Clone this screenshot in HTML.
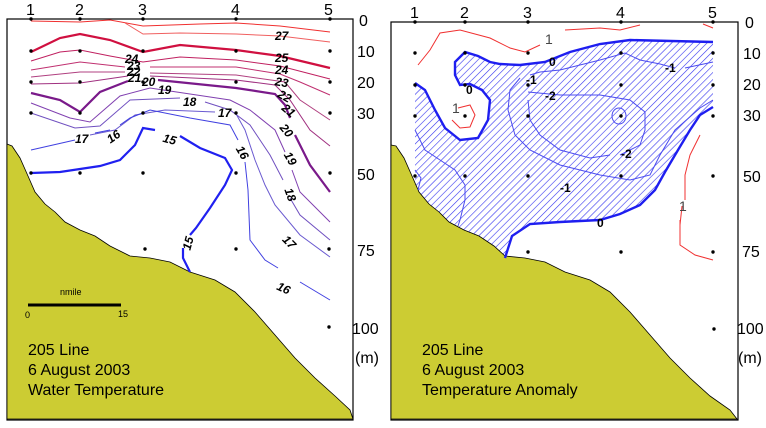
<!DOCTYPE html>
<html><head><meta charset="utf-8"><style>
html,body{margin:0;padding:0;background:#fff;}
svg{display:block;font-family:"Liberation Sans",Arial,sans-serif;}
</style></head><body>
<svg width="766" height="428" viewBox="0 0 766 428">
<defs>
<pattern id="h" patternUnits="userSpaceOnUse" width="5" height="5" patternTransform="rotate(45)">
<line x1="0" y1="0" x2="0" y2="5" stroke="#3434f0" stroke-width="1.2"/>
</pattern>
</defs>
<!-- LEFT PANEL -->
<rect x="7" y="19" width="346" height="401" fill="#fff" stroke="#000" stroke-width="1.2"/>
<path d="M7,144 L12,146 L20,158 L28,176 L35,192 L45,204 L55,212 L65,222 L80,230 L95,236 L110,246 L130,256 L150,258 L170,262 L190,272 L215,280 L235,292 L255,312 L275,335 L295,358 L315,378 L335,396 L350,410 L353,419 L7,419 Z" fill="#cccc33" stroke="#000" stroke-width="0.8"/>
<g fill="none">
<path d="M31,21 L80,22 L110,20 L143,26 L200,24 L236,23 L280,26 L330,32" stroke="#f03030" stroke-width="1"/>
<path d="M125,23 L143,34 L180,33 L236,34 L280,36 L330,42" stroke="#f06060" stroke-width="1"/>
<path d="M31,52 L60,38 L80,34 L110,40 L143,52 L180,45 L236,50 L280,56 L330,68" stroke="#d01040" stroke-width="2.2"/>
<path d="M31,61 L60,52 L80,50 L110,56 L143,62 L180,57 L236,60 L280,66 L330,79" stroke="#c02060" stroke-width="1"/>
<path d="M31,70 L80,62 L125,67 M150,67 L236,67 L280,74 L300,82 L330,95" stroke="#c03070" stroke-width="1"/>
<path d="M31,77 L80,72 L125,72 M150,73 L236,75 L285,82 L300,100 L330,120" stroke="#b04080" stroke-width="1"/>
<path d="M31,84 L80,83 L128,76 M150,76 L236,80 L275,85 L290,100 L310,130 L330,146" stroke="#a03080" stroke-width="1"/>
<path d="M31,93 L60,100 L80,112 L100,92 L128,81 M158,80 L236,88 L275,94 L285,105 L290,118 M295,135 L310,165 L330,192" stroke="#7a1a8a" stroke-width="2.2"/>
<path d="M31,103 L70,118 L90,122 L120,96 L150,88 L230,100 L250,110 L275,130 L285,152 M292,170 L300,192 L330,222" stroke="#8040b0" stroke-width="1"/>
<path d="M31,113 L75,128 L100,126 L130,100 L180,98 M205,102 L230,110 L250,125 L270,155 L283,180 M290,198 L300,215 L330,240" stroke="#7050c0" stroke-width="1"/>
<path d="M90,135 L115,130 L135,115 L165,110 L215,112 M235,112 L245,130 L255,160 L265,185 L275,205 L300,235 L330,257" stroke="#6a5ad0" stroke-width="1"/>
<path d="M31,150 L75,140 M95,133 L110,130 M120,125 L130,118 L150,110 L190,118 L230,125 L238,140 M245,162 L248,190 L250,240 L265,260 L278,268 M300,282 L330,300" stroke="#4040e0" stroke-width="1"/>
<path d="M31,173 L60,172 L100,166 L120,160 L135,145 L143,128 L155,130 M180,136 L200,148 L225,158 L232,170 L225,185 L210,208 L196,228 L190,235 M183,248 L183,258 L190,272" stroke="#2020f0" stroke-width="2.2"/>
</g>
<g font-size="12" font-weight="bold" font-style="italic" fill="#000">
<text x="275" y="40">27</text><text x="275" y="62">25</text><text x="275" y="74">24</text><text x="275" y="86" transform="rotate(10 280 82)">23</text>
<text x="278" y="100" transform="rotate(30 284 96)">22</text><text x="282" y="114" transform="rotate(40 288 110)">21</text>
<text x="280" y="134" transform="rotate(50 286 130)">20</text><text x="284" y="162" transform="rotate(60 290 158)">19</text>
<text x="284" y="198" transform="rotate(70 290 194)">18</text><text x="283" y="245" transform="rotate(45 288 241)">17</text>
<text x="277" y="292" transform="rotate(25 283 288)">16</text>
<text x="125" y="63">24</text><text x="127" y="70">23</text><text x="127" y="76">22</text><text x="128" y="82">21</text>
<text x="142" y="86">20</text><text x="158" y="94">19</text><text x="183" y="106">18</text><text x="218" y="117">17</text>
<text x="75" y="143">17</text><text x="107" y="141" transform="rotate(-35 113 137)">16</text>
<text x="163" y="143" transform="rotate(15 168 139)">15</text><text x="236" y="156" transform="rotate(60 242 152)">16</text>
<text x="182" y="248" transform="rotate(-75 188 244)">15</text>
</g>
<g fill="#000">
<circle cx="31" cy="19" r="1.7"/><circle cx="80" cy="19" r="1.7"/><circle cx="143" cy="19" r="1.7"/><circle cx="236" cy="19" r="1.7"/><circle cx="330" cy="19" r="1.7"/>
<circle cx="31" cy="51" r="1.7"/><circle cx="80" cy="51" r="1.7"/><circle cx="143" cy="51" r="1.7"/><circle cx="236" cy="51" r="1.7"/><circle cx="330" cy="51" r="1.7"/>
<circle cx="31" cy="82" r="1.7"/><circle cx="80" cy="82" r="1.7"/><circle cx="143" cy="82" r="1.7"/><circle cx="236" cy="82" r="1.7"/><circle cx="330" cy="82" r="1.7"/>
<circle cx="31" cy="113" r="1.7"/><circle cx="80" cy="113" r="1.7"/><circle cx="143" cy="113" r="1.7"/><circle cx="236" cy="113" r="1.7"/><circle cx="330" cy="113" r="1.7"/>
<circle cx="31" cy="173" r="1.7"/><circle cx="80" cy="173" r="1.7"/><circle cx="143" cy="173" r="1.7"/><circle cx="236" cy="173" r="1.7"/><circle cx="330" cy="173" r="1.7"/>
<circle cx="145" cy="249" r="1.7"/><circle cx="236" cy="249" r="1.7"/><circle cx="329" cy="249" r="1.7"/><circle cx="329" cy="327" r="1.7"/>
</g>
<g font-size="16" fill="#000">
<text x="26" y="15">1</text><text x="75" y="15">2</text><text x="138" y="15">3</text><text x="231" y="15">4</text><text x="324" y="15">5</text>
<text x="359" y="26">0</text><text x="357" y="57">10</text><text x="357" y="88">20</text><text x="357" y="119">30</text><text x="357" y="180">50</text><text x="357" y="256">75</text><text x="352" y="334">100</text><text x="355" y="363">(m)</text>
</g>
<line x1="28" y1="305" x2="121" y2="305" stroke="#000" stroke-width="3"/>
<text x="60" y="295" font-size="9">nmile</text><text x="25" y="318" font-size="9">0</text><text x="118" y="317" font-size="9">15</text>
<g font-size="16" fill="#000"><text x="28" y="355">205 Line</text><text x="28" y="375">6 August 2003</text><text x="28" y="395">Water Temperature</text></g>

<!-- RIGHT PANEL -->
<rect x="391" y="22" width="347" height="398" fill="#fff" stroke="#000" stroke-width="1.2"/>
<path d="M415,83 L425,90 L435,110 L445,128 L460,140 L478,138 L488,120 L490,100 L482,90 L470,84 L460,85 L455,75 L455,62 L465,52 L478,56 L490,62 L500,64 L520,65 L545,62 L570,52 L600,44 L630,40 L713,42 L713,107 L700,115 L690,130 L678,150 L665,172 L655,190 L640,205 L620,214 L600,220 L560,222 L530,224 L512,236 L505,258 L490,254 L470,250 L450,244 L438,234 L425,222 L418,205 L415,183 Z" fill="url(#h)"/>
<path d="M391,145 L396,146 L404,158 L412,176 L419,192 L429,204 L439,212 L449,222 L464,230 L479,236 L494,246 L505,256 L525,258 L545,262 L565,272 L590,280 L610,292 L630,312 L650,335 L670,358 L690,378 L710,396 L730,410 L737,419 L391,419 Z" fill="#cccc33" stroke="#000" stroke-width="0.8"/>
<g fill="none">
<path d="M415,83 L425,90 L435,110 L445,128 L460,140 L478,138 L488,120 L490,100 L482,90 L470,84 L460,85 L455,75 L455,62 L465,52 L478,56 L490,62 L500,64 L520,65 L545,62 L570,52 L600,44 L630,40 L713,42" stroke="#1e1ef0" stroke-width="2.4"/>
<path d="M713,107 L700,115 L690,130 L678,150 L665,172 L655,190 L640,205 L620,214 L600,220 L560,222 L530,224 L512,236 L505,258" stroke="#1e1ef0" stroke-width="2.4"/>
<path d="M418,65 L430,50 L440,33 L460,30 L490,38 L510,48 L525,52 L540,45 M565,30 L600,28 L620,30 L640,25 M703,24 L713,28" stroke="#f03030" stroke-width="1"/>
<path d="M458,108 L470,105 L475,115 L470,127 L460,128 L452,120" stroke="#f03030" stroke-width="1"/>
<path d="M700,135 L690,155 L685,175 L685,200 M682,206 L680,225" stroke="#f03030" stroke-width="1"/>
<path d="M680,220 L680,245 L695,255 L713,260" stroke="#f03030" stroke-width="1"/>
<path d="M530,75 L540,72 L560,70 L600,60 L625,53 L640,60 L660,64 L675,68 M685,68 L713,62" stroke="#4b4bf0" stroke-width="1"/>
<path d="M520,78 L510,90 L508,110 L515,135 L530,150 L560,165 L600,175 L630,180 L650,175 L660,155 L675,130 L700,108 L713,100" stroke="#4b4bf0" stroke-width="1"/>
<path d="M528,92 L560,95 L600,95 L630,100 L645,112 L645,130 L640,145 L630,150 L620,155 M610,155 L590,158 L560,150 L540,135 L530,120 L528,100" stroke="#4b4bf0" stroke-width="1"/>
<ellipse cx="619" cy="116" rx="7" ry="8" stroke="#4b4bf0" stroke-width="1"/>
<path d="M415,130 L425,150 L440,160 L455,170 L465,185 L465,200 L460,220 L458,226" stroke="#4b4bf0" stroke-width="1"/>
<path d="M415,170 L421,178 L418,190" stroke="#4b4bf0" stroke-width="1"/>
</g>
<g font-size="14" fill="#000">
<text x="545" y="44" fill="#444">1</text><text x="452" y="113" fill="#444">1</text><text x="679" y="211" fill="#444">1</text>
</g>
<g font-size="12" font-weight="bold" fill="#000">
<text x="549" y="66">0</text><text x="466" y="94">0</text><text x="597" y="227">0</text>
<text x="526" y="84">-1</text><text x="665" y="72">-1</text><text x="560" y="192">-1</text>
<text x="545" y="100">-2</text><text x="621" y="158">-2</text>
</g>
<g fill="#000">
<circle cx="415" cy="22" r="1.7"/><circle cx="465" cy="22" r="1.7"/><circle cx="528" cy="22" r="1.7"/><circle cx="621" cy="22" r="1.7"/><circle cx="713" cy="22" r="1.7"/>
<circle cx="415" cy="53" r="1.7"/><circle cx="465" cy="53" r="1.7"/><circle cx="528" cy="53" r="1.7"/><circle cx="621" cy="53" r="1.7"/><circle cx="713" cy="53" r="1.7"/>
<circle cx="415" cy="85" r="1.7"/><circle cx="465" cy="85" r="1.7"/><circle cx="528" cy="85" r="1.7"/><circle cx="621" cy="85" r="1.7"/><circle cx="713" cy="85" r="1.7"/>
<circle cx="415" cy="116" r="1.7"/><circle cx="465" cy="116" r="1.7"/><circle cx="528" cy="116" r="1.7"/><circle cx="621" cy="116" r="1.7"/><circle cx="713" cy="116" r="1.7"/>
<circle cx="415" cy="176" r="1.7"/><circle cx="465" cy="176" r="1.7"/><circle cx="528" cy="176" r="1.7"/><circle cx="621" cy="176" r="1.7"/><circle cx="713" cy="176" r="1.7"/>
<circle cx="528" cy="252" r="1.7"/><circle cx="621" cy="252" r="1.7"/><circle cx="713" cy="252" r="1.7"/><circle cx="714" cy="329" r="1.7"/>
</g>
<g font-size="16" fill="#000">
<text x="410" y="18">1</text><text x="460" y="18">2</text><text x="523" y="18">3</text><text x="616" y="18">4</text><text x="708" y="18">5</text>
<text x="745" y="28">0</text><text x="743" y="59">10</text><text x="743" y="90">20</text><text x="743" y="121">30</text><text x="743" y="182">50</text><text x="742" y="257">75</text><text x="737" y="334">100</text><text x="738" y="363">(m)</text>
</g>
<g font-size="16" fill="#000"><text x="422" y="355">205 Line</text><text x="422" y="375">6 August 2003</text><text x="422" y="395">Temperature Anomaly</text></g>
</svg>
</body></html>
